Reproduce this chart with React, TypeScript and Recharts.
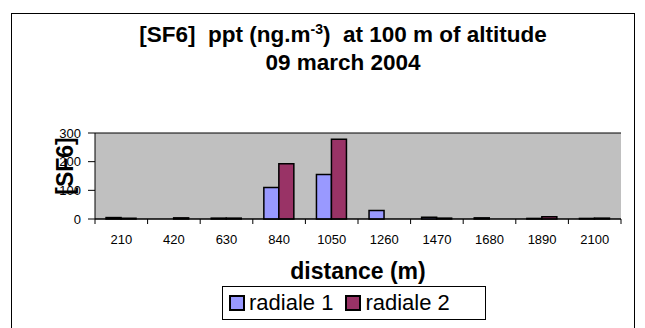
import React from "react";
import {
  BarChart,
  Bar,
  XAxis,
  YAxis,
  CartesianGrid,
  Label,
} from "recharts";

const distances = ["210", "420", "630", "840", "1050", "1260", "1470", "1680", "1890", "2100"];
const radiale1 = [5, 0, 3, 110, 155, 30, 6, 4, 2, 2];
const radiale2 = [3, 4, 3, 193, 278, 0, 3, 0, 8, 3];
const yTicks = [0, 100, 200, 300];

const data = distances.map((d, i) => ({
  distance: d,
  r1: radiale1[i],
  r2: radiale2[i],
}));

const FONT = "'Liberation Sans', Arial, sans-serif";
const W = 645;
const H = 328;
const PLOT_LEFT = 95;
const PLOT_RIGHT = 621;
const PLOT_TOP = 133;
const PLOT_BOTTOM = 219;
const STEP = (PLOT_RIGHT - PLOT_LEFT) / distances.length;

function XTick(props: any) {
  const { x, payload, index } = props;
  return (
    <g>
      <line x1={x - STEP / 2} x2={x - STEP / 2} y1={PLOT_BOTTOM} y2={PLOT_BOTTOM + 5} stroke="#000" />
      {index === distances.length - 1 && (
        <line x1={x + STEP / 2} x2={x + STEP / 2} y1={PLOT_BOTTOM} y2={PLOT_BOTTOM + 5} stroke="#000" />
      )}
      <text x={x} y={PLOT_BOTTOM + 25} textAnchor="middle" fontSize={13} fill="#000" fontFamily={FONT}>
        {payload.value}
      </text>
    </g>
  );
}

function LegendBox() {
  const item = (color: string, text: string) => (
    <span style={{ display: "inline-flex", alignItems: "center", marginRight: 12 }}>
      <span
        style={{
          display: "inline-block",
          width: 12,
          height: 12,
          background: color,
          border: "2px solid #000",
          marginRight: 4,
        }}
      />
      <span>{text}</span>
    </span>
  );
  return (
    <div
      style={{
        position: "absolute",
        left: 222,
        top: 286,
        width: 264,
        height: 34,
        border: "1px solid #000",
        background: "#fff",
        display: "flex",
        alignItems: "center",
        paddingLeft: 6,
        boxSizing: "border-box",
        fontFamily: FONT,
        fontSize: 22,
        color: "#000",
        whiteSpace: "nowrap",
      }}
    >
      {item("#9999FF", "radiale 1")}
      {item("#993366", "radiale 2")}
    </div>
  );
}

export default function App() {
  return (
    <div
      style={{
        position: "absolute",
        left: 0,
        top: 0,
        width: W,
        height: H,
        overflow: "hidden",
        background: "#fff",
        fontFamily: FONT,
      }}
    >
      <div
        style={{
          position: "absolute",
          left: 11,
          top: 13,
          width: 622,
          height: 340,
          border: "1px solid #000",
        }}
      />
      <div
        style={{
          position: "absolute",
          left: 23,
          width: 640,
          top: 21,
          textAlign: "center",
          fontWeight: "bold",
          fontSize: 22.5,
          lineHeight: "28px",
          color: "#000",
        }}
      >
        <div>
          [SF6]&nbsp; ppt (ng.m<sup style={{ fontSize: 14, lineHeight: 0 }}>-3</sup>)&nbsp; at 100 m of altitude
        </div>
        <div>09 march 2004</div>
      </div>
      <BarChart
        width={W}
        height={H}
        data={data}
        margin={{ top: PLOT_TOP, right: W - PLOT_RIGHT, bottom: H - PLOT_BOTTOM - 30, left: PLOT_LEFT - 60 }}
        barCategoryGap="21%"
        barGap={0}
        style={{ position: "absolute", left: 0, top: 0 }}
      >
        <CartesianGrid vertical={false} fill="#C0C0C0" stroke="#000" strokeWidth={1} />
        <XAxis
          dataKey="distance"
          height={30}
          tick={<XTick />}
          tickLine={false}
          axisLine={{ stroke: "#000" }}
          interval={0}
        >
          <Label
            value="distance (m)"
            position="insideBottom"
            offset={-30}
            style={{ fontSize: 23, fontWeight: "bold", fill: "#000", fontFamily: FONT }}
          />
        </XAxis>
        <YAxis
          yAxisId="l"
          width={60}
          domain={[0, 300]}
          ticks={yTicks}
          tickSize={7}
          tickMargin={7}
          tick={{ fill: "#000", fontSize: 13, fontFamily: FONT }}
          tickLine={{ stroke: "#000" }}
          axisLine={{ stroke: "#000" }}
        >
          <Label
            value="[SF6]"
            angle={-90}
            position="center"
            dy={-10}
            style={{ fontSize: 23, fontWeight: "bold", fill: "#000", fontFamily: FONT, textAnchor: "middle" }}
          />
        </YAxis>
        <YAxis
          yAxisId="r"
          orientation="right"
          width={0}
          domain={[0, 300]}
          tick={false}
          tickLine={false}
          axisLine={{ stroke: "#808080" }}
        />
        <Bar yAxisId="l" dataKey="r1" name="radiale 1" fill="#9999FF" stroke="#000" strokeWidth={1.5} isAnimationActive={false} />
        <Bar yAxisId="l" dataKey="r2" name="radiale 2" fill="#993366" stroke="#000" strokeWidth={1.5} isAnimationActive={false} />
      </BarChart>
      <LegendBox />
    </div>
  );
}
